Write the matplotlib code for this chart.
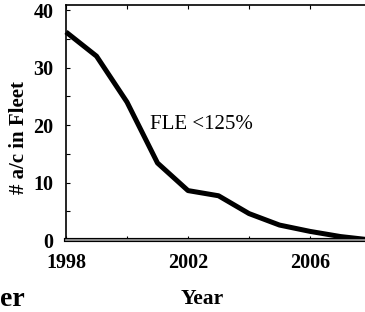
import numpy as np
import matplotlib
matplotlib.use("Agg")
import matplotlib.pyplot as plt

# fleet count
years = [1998, 1999, 2000, 2001, 2002, 2003, 2004, 2005, 2006, 2007, 2008]
fleet = [36.2, 32.0, 24.0, 13.4, 8.6, 7.7, 4.6, 2.6, 1.5, 0.6, 0.0]
xticks = [1998, 2002, 2006]
yticks = [0, 10, 20, 30, 40]

plt.rcParams['font.family'] = ['Liberation Serif', 'DejaVu Serif']

fig = plt.figure(figsize=(3.65, 3.12), dpi=100)
ax = fig.add_axes([66 / 365, 72 / 312, 305 / 365, 235 / 312])

ax.plot(years, fleet, color='black', lw=3.6, solid_capstyle='butt',
        solid_joinstyle='round', clip_on=False)

ax.set_xlim(1998, 2008)
ax.set_ylim(0, 40.9)
ax.set_xticks(xticks)
ax.set_xticks(np.arange(1998, 2009, 2), minor=True)
ax.set_yticks(yticks)
ax.set_yticks(np.arange(0, 41, 5), minor=True)
ax.tick_params(axis='both', which='both', direction='in', top=True,
               length=3, width=0.8)
ax.tick_params(axis='y', which='major', pad=9, labelsize=14.5)
ax.tick_params(axis='x', which='major', pad=9, labelsize=14.5)
for lab in ax.get_xticklabels() + ax.get_yticklabels():
    lab.set_fontweight('bold')

for s in ['left', 'top']:
    ax.spines[s].set_linewidth(1.2)
ax.spines['right'].set_visible(False)
ax.spines['bottom'].set_linewidth(3)
ax.spines['bottom'].set_color('black')
ax.axhline(0, color='#a0a0a0', lw=1.2, clip_on=False, zorder=3)

ax.text(2000.75, 20.1, 'FLE <125%', fontsize=15, ha='left', va='center')

fig.text(19 / 365, 1 - 138 / 312, '# a/c in Fleet', rotation=90,
         fontsize=15, fontweight='bold', ha='center', va='center')
fig.text(202 / 365, 1 - 299 / 312, 'Year', fontsize=15.5,
         fontweight='bold', ha='center', va='center')
fig.text(0, 1 - 299 / 312, 'er', fontsize=20, fontweight='bold',
         ha='left', va='center')

fig.savefig('out.png', dpi=100)
